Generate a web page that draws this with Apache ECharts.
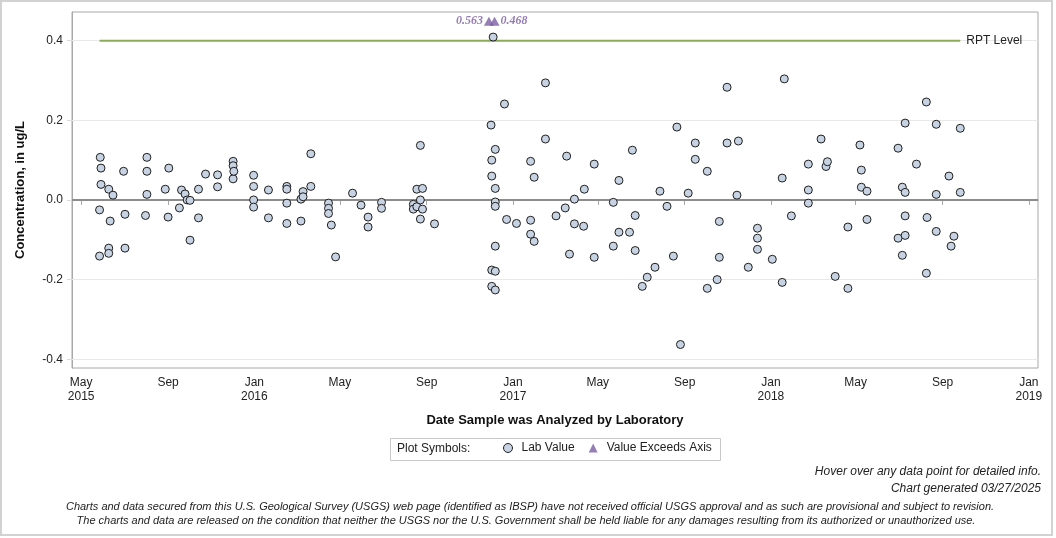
<!DOCTYPE html>
<html>
<head>
<meta charset="utf-8">
<title>Concentration, in ug/L</title>
<script src="https://cdn.jsdelivr.net/npm/echarts@6/dist/echarts.min.js"></script>
<style>
  html, body { margin: 0; padding: 0; background: #fff; }
  #chart { width: 1056px; height: 538px; }
</style>
</head>
<body>
<div id="chart"></div>
<script>
// lab values: date analyzed / concentration (ug/L)
var labDates = [
  '2015-05-27','2015-05-27','2015-05-28','2015-05-29','2015-05-29','2015-06-09','2015-06-09','2015-06-09',
  '2015-06-11','2015-06-15','2015-06-30','2015-07-02','2015-07-02','2015-07-31','2015-08-02','2015-08-02',
  '2015-08-02','2015-08-28','2015-09-01','2015-09-02','2015-09-17','2015-09-20','2015-09-25','2015-09-28',
  '2015-10-02','2015-10-02','2015-10-14','2015-10-14','2015-10-24','2015-11-10','2015-11-10','2015-12-02',
  '2015-12-02','2015-12-02','2015-12-03','2015-12-31','2015-12-31','2015-12-31','2015-12-31',
  '2016-01-21','2016-01-21','2016-02-16','2016-02-16','2016-02-16','2016-02-16','2016-03-07','2016-03-07',
  '2016-03-10','2016-03-10','2016-03-21','2016-03-21','2016-04-15','2016-04-15','2016-04-15','2016-04-19',
  '2016-04-25','2016-05-19','2016-05-31','2016-06-10','2016-06-10','2016-06-29','2016-06-29','2016-08-13',
  '2016-08-13','2016-08-18','2016-08-18','2016-08-23','2016-08-23','2016-08-23','2016-08-26','2016-08-26',
  '2016-09-12','2016-12-01','2016-12-02','2016-12-02','2016-12-02','2016-12-02','2016-12-04','2016-12-07',
  '2016-12-07','2016-12-07','2016-12-07','2016-12-07','2016-12-07','2016-12-07','2016-12-20','2016-12-23',
  '2017-01-06','2017-01-26','2017-01-26','2017-01-26','2017-01-31','2017-01-31','2017-02-16','2017-02-16',
  '2017-03-03','2017-03-16','2017-03-18','2017-03-22','2017-03-29','2017-03-29','2017-04-11','2017-04-12',
  '2017-04-26','2017-04-26','2017-05-23','2017-05-23','2017-05-31','2017-05-31','2017-06-15','2017-06-19',
  '2017-06-23','2017-06-23','2017-07-03','2017-07-10','2017-07-21','2017-07-28','2017-08-07','2017-08-16',
  '2017-08-21','2017-08-26','2017-09-06','2017-09-16','2017-09-16','2017-10-03','2017-10-03','2017-10-17',
  '2017-10-20','2017-10-20','2017-10-31','2017-10-31','2017-11-14','2017-11-16','2017-11-30','2017-12-13',
  '2017-12-13','2017-12-13',
  '2018-01-03','2018-01-17','2018-01-17','2018-01-20','2018-01-30','2018-02-23','2018-02-23','2018-02-23',
  '2018-03-13','2018-03-20','2018-03-22','2018-04-02','2018-04-20','2018-04-20','2018-05-07','2018-05-09',
  '2018-05-09','2018-05-17','2018-05-17','2018-06-30','2018-06-30','2018-07-06','2018-07-06','2018-07-10',
  '2018-07-10','2018-07-10','2018-07-10','2018-07-26','2018-08-09','2018-08-09','2018-08-10','2018-08-23',
  '2018-08-23','2018-08-23','2018-09-10','2018-09-13','2018-09-17','2018-09-26','2018-09-26'
]
var labValues = [
  -0.025, -0.141, 0.107, 0.080, 0.039, 0.027, -0.121, -0.134,
  -0.053, 0.012, 0.072, -0.036, -0.121, -0.039, 0.107, 0.072,
  0.014, 0.027, -0.043, 0.080, -0.020, 0.025, 0.015, 0.000,
  -0.001, -0.101, 0.027, -0.045, 0.065, 0.063, 0.033, 0.097,
  0.086, 0.053, 0.072, 0.062, 0.034, 0.000, -0.018,
  0.025, -0.045, 0.034, 0.027, -0.008, -0.059, -0.053, 0.002,
  0.021, 0.008, 0.116, 0.034, -0.008, -0.021, -0.034, -0.063,
  -0.143, 0.017, -0.013, -0.043, -0.068, -0.006, -0.021, -0.011,
  -0.023, 0.027, -0.017, 0.137, 0.000, -0.048, 0.029, -0.023,
  -0.060, 0.188, -0.176, -0.217, 0.100, 0.060, 0.409, 0.127,
  0.029, -0.005, -0.016, -0.116, -0.179, -0.226, 0.241, -0.049,
  -0.059, 0.097, -0.051, -0.086, 0.057, -0.104, 0.153, 0.294,
  -0.040, -0.020, 0.110, -0.136, 0.002, -0.060, -0.066, 0.027,
  0.090, -0.144, -0.006, -0.116, 0.049, -0.081, -0.081, 0.125,
  -0.039, -0.127, -0.217, -0.194, -0.169, 0.022, -0.016, -0.141,
  0.183, -0.363, 0.017, 0.143, 0.102, 0.072, -0.222, -0.200,
  -0.054, -0.144, 0.283, 0.143, 0.012, 0.148, -0.169, -0.071,
  -0.096, -0.124,
  -0.149, 0.055, -0.207, 0.304, -0.040, 0.090, 0.025, -0.008,
  0.153, 0.084, 0.096, -0.192, -0.068, -0.222, 0.138, 0.075,
  0.032, 0.022, -0.049, 0.130, -0.096, 0.032, -0.139, 0.193,
  0.019, -0.040, -0.089, 0.090, 0.246, -0.184, -0.044, 0.190,
  0.014, -0.079, 0.060, -0.116, -0.091, 0.180, 0.019
]

// values above the axis top, drawn as triangles
var exceedDates = ['2016-11-28', '2016-12-06']
var exceedValues = [0.563, 0.468]

var rptLevel = 0.4

// axis ticks
var xTickDates = ['2015-05-01','2015-09-01','2016-01-01','2016-05-01','2016-09-01','2017-01-01',
  '2017-05-01','2017-09-01','2018-01-01','2018-05-01','2018-09-01','2019-01-01']
var xTickLabels = ['May\n2015','Sep','Jan\n2016','May','Sep','Jan\n2017','May','Sep','Jan\n2018','May','Sep','Jan\n2019']
var yTicks = [-0.4, -0.2, 0, 0.2, 0.4]
var yTickLabels = ['-0.4', '-0.2', '0.0', '0.2', '0.4']

var FONT = '"Liberation Sans", Arial, sans-serif'
var yMin = -0.422
var yMax = 0.472

var xTickMs = xTickDates.map(function (d) { return Date.parse(d) })
var labData = labDates.map(function (d, i) { return [Date.parse(d), labValues[i]] })
var firstMs = Math.min.apply(null, labData.map(function (p) { return p[0] }))
var lastMs = Math.max.apply(null, labData.map(function (p) { return p[0] }))

var exceedData = exceedDates.map(function (d, i) {
  return {
    value: [Date.parse(d), yMax - 0.023, exceedValues[i]],
    label: { position: i === 0 ? 'left' : 'right' }
  }
})

// light grid lines plus a heavier zero line
var gridLines = yTicks.map(function (v) {
  if (v === 0) return { yAxis: 0, lineStyle: { color: '#8c8c8c', width: 2, type: 'solid' } }
  return { yAxis: v, lineStyle: { color: '#e8e8e8', width: 1, type: 'solid' } }
})

var chart = echarts.init(document.getElementById('chart'))

chart.setOption({
  animation: false,
  backgroundColor: '#fff',
  textStyle: { fontFamily: FONT },
  grid: {
    left: 72, top: 12, right: 18, bottom: 170,
    show: true, borderColor: '#a8a8a8', borderWidth: 1
  },
  legend: {
    data: ['Lab Value', 'Value Exceeds Axis'],
    left: 503, top: 442, padding: 0,
    itemWidth: 9, itemHeight: 9, itemGap: 14,
    itemStyle: { borderWidth: 1 },
    textStyle: { fontSize: 12, color: '#222', fontFamily: FONT, padding: [0, 0, 0, 4] }
  },
  xAxis: {
    type: 'value',
    min: Date.parse('2015-04-18'),
    max: Date.parse('2019-01-14'),
    name: 'Date Sample was Analyzed by Laboratory',
    nameLocation: 'middle',
    nameGap: 46,
    nameTextStyle: { fontSize: 13, fontWeight: 'bold', color: '#111', fontFamily: FONT },
    axisLine: { show: true, lineStyle: { color: '#a8a8a8' } },
    axisTick: { show: true, length: 5, customValues: xTickMs, lineStyle: { color: '#a8a8a8' } },
    axisLabel: {
      customValues: xTickMs,
      fontSize: 12, color: '#222', lineHeight: 14, margin: 8,
      formatter: function (v) {
        var i = xTickMs.indexOf(v)
        return i >= 0 ? xTickLabels[i] : ''
      }
    },
    splitLine: { show: false }
  },
  yAxis: {
    type: 'value',
    min: yMin,
    max: yMax,
    name: 'Concentration, in ug/L',
    nameLocation: 'middle',
    nameGap: 45,
    nameTextStyle: { fontSize: 13, fontWeight: 'bold', color: '#111', fontFamily: FONT },
    axisLine: { show: true, lineStyle: { color: '#a8a8a8' } },
    axisTick: { show: true, length: 5, customValues: yTicks, lineStyle: { color: '#dcdcdc' } },
    axisLabel: {
      customValues: yTicks,
      fontSize: 12, color: '#222', margin: 9,
      formatter: function (v) {
        var i = yTicks.indexOf(v)
        return i >= 0 ? yTickLabels[i] : v.toFixed(1)
      }
    },
    splitLine: { show: false }
  },
  series: [
    {
      name: 'RPT Level',
      type: 'line',
      data: [[firstMs, rptLevel], [lastMs, rptLevel]],
      symbol: 'none',
      lineStyle: { color: '#8aab5a', width: 2 },
      z: 2,
      silent: true,
      endLabel: {
        show: true, formatter: 'RPT Level', color: '#222',
        fontSize: 12, distance: 6, fontFamily: FONT
      },
      markLine: {
        silent: true,
        z: 1,
        symbol: 'none',
        label: { show: false },
        data: gridLines
      }
    },
    {
      name: 'Lab Value',
      type: 'scatter',
      data: labData,
      symbol: 'circle',
      symbolSize: 8,
      z: 3,
      itemStyle: { color: '#c7d3e3', borderColor: '#1e1e1e', borderWidth: 1, opacity: 1 }
    },
    {
      name: 'Value Exceeds Axis',
      type: 'scatter',
      data: exceedData,
      symbol: 'triangle',
      symbolSize: [10, 9],
      z: 4,
      itemStyle: { color: '#7b5ca3' },
      label: {
        show: true,
        distance: 1,
        color: '#7b5ca3',
        fontFamily: '"Liberation Serif", "DejaVu Serif", serif',
        fontStyle: 'italic',
        fontWeight: 'bold',
        fontSize: 12,
        formatter: function (p) { return p.value[2].toFixed(3) }
      }
    }
  ],
  graphic: [
    // outer frame
    { type: 'rect', shape: { x: 1, y: 1, width: 1051, height: 534 },
      style: { fill: null, stroke: '#d2d2d2', lineWidth: 2 }, silent: true, z: -1 },
    // legend box
    { type: 'rect', shape: { x: 390.5, y: 438.5, width: 330, height: 22 },
      style: { fill: '#fff', stroke: '#c8c8c8', lineWidth: 1 }, silent: true, z: -1 },
    { type: 'text', left: 397, top: 443,
      style: { text: 'Plot Symbols:', font: '12px ' + FONT, fill: '#222' } },
    { type: 'text', right: 15, top: 466,
      style: { text: 'Hover over any data point for detailed info.', font: 'italic 12px ' + FONT, fill: '#222' } },
    { type: 'text', right: 15, top: 483,
      style: { text: 'Chart generated 03/27/2025', font: 'italic 12px ' + FONT, fill: '#222' } },
    { type: 'text', x: 530, y: 501,
      style: {
        text: 'Charts and data secured from this U.S. Geological Survey (USGS) web page (identified as IBSP) have not received official USGS approval and as such are provisional and subject to revision.',
        font: 'italic 11px ' + FONT, fill: '#222', align: 'center'
      } },
    { type: 'text', x: 526, y: 515,
      style: {
        text: 'The charts and data are released on the condition that neither the USGS nor the U.S. Government shall be held liable for any damages resulting from its authorized or unauthorized use.',
        font: 'italic 11px ' + FONT, fill: '#222', align: 'center'
      } }
  ]
})
</script>
</body>
</html>
